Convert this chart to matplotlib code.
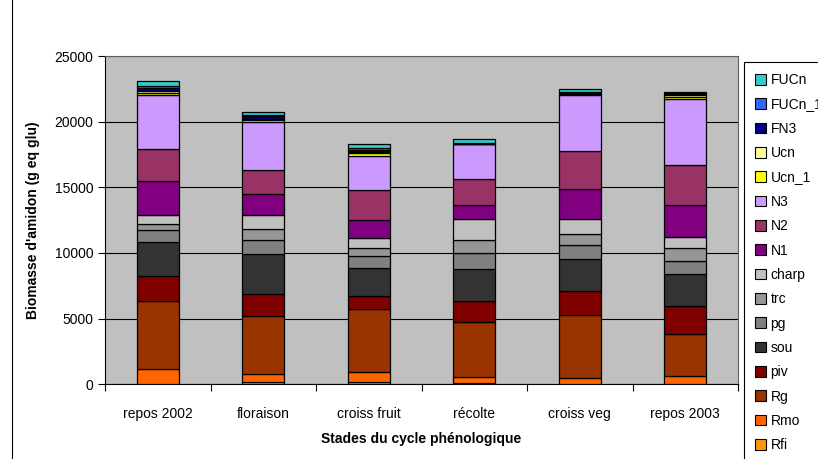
import numpy as np
import matplotlib.pyplot as plt
from matplotlib.lines import Line2D
from matplotlib.patches import Patch

plt.rcParams['font.family'] = ['Liberation Sans', 'DejaVu Sans']

stades = ['repos 2002', 'floraison', 'croiss fruit', 'récolte', 'croiss veg', 'repos 2003']

# starch biomass per organ (g eq glu), bottom of the stack first
Rfi = [50, 150, 150, 80, 40, 40]
Rmo = [1090, 660, 810, 500, 417, 590]
Rg = [5180, 4414, 4774, 4165, 4797, 3221]
piv = [1950, 1676, 1013, 1576, 1874, 2087]
sou = [2566, 3045, 2086, 2437, 2437, 2482]
pg = [890, 1021, 960, 1219, 1066, 967]
trc = [500, 837, 563, 1012, 837, 967]
charp = [685, 1089, 762, 1577, 1097, 838]
N1 = [2590, 1622, 1371, 1066, 2284, 2460]
N2 = [2437, 1828, 2284, 2026, 2894, 3046]
N3 = [4112, 3609, 2635, 2642, 4310, 5026]
Ucn_1 = [150, 150, 200, 0, 60, 150]
Ucn = [150, 80, 50, 0, 60, 150]
FN3 = [200, 250, 200, 30, 30, 100]
FUCn_1 = [150, 50, 141, 28, 20, 30]
FUCn = [390, 232, 300, 300, 241, 103]

series = [
    ('Rfi', Rfi, '#FF9900'),
    ('Rmo', Rmo, '#FF6600'),
    ('Rg', Rg, '#993300'),
    ('piv', piv, '#800000'),
    ('sou', sou, '#333333'),
    ('pg', pg, '#808080'),
    ('trc', trc, '#969696'),
    ('charp', charp, '#C0C0C0'),
    ('N1', N1, '#800080'),
    ('N2', N2, '#993366'),
    ('N3', N3, '#CC99FF'),
    ('Ucn_1', Ucn_1, '#FFFF00'),
    ('Ucn', Ucn, '#FFFF99'),
    ('FN3', FN3, '#000080'),
    ('FUCn_1', FUCn_1, '#3366FF'),
    ('FUCn', FUCn, '#33CCCC'),
]

fig = plt.figure(figsize=(8.18, 4.59), dpi=100)
ax = fig.add_axes([105 / 818, 1 - 384.3 / 459, 633 / 818, 328.3 / 459])
ax.set_facecolor('#C0C0C0')

x = np.arange(len(stades))
bottom = np.zeros(len(stades))
handles = []
for name, vals, col in series:
    ax.bar(x, vals, 0.4, bottom=bottom, color=col, edgecolor='black',
           linewidth=0.9, zorder=3)
    bottom += np.array(vals)
    handles.append(Patch(facecolor=col, edgecolor='black', linewidth=0.8, label=name))

ax.set_xlim(-0.5, len(stades) - 0.5)
ax.set_ylim(0, 25000)
ax.set_yticks(np.arange(0, 25001, 5000))
ax.yaxis.grid(True, color='black', linewidth=0.8, zorder=0)
ax.set_axisbelow(True)

ax.set_xticks(x)
ax.set_xticklabels(stades, fontsize=10)
ax.set_xticks(np.arange(-0.5, len(stades)), minor=True)
ax.tick_params(axis='x', which='major', length=0, pad=16)
ax.tick_params(axis='x', which='minor', length=5, width=0.8, direction='out')
ax.tick_params(axis='y', length=5, width=0.8, direction='out', labelsize=10)

for side in ['top', 'right']:
    ax.spines[side].set_color('#606060')
for side in ['left', 'bottom']:
    ax.spines[side].set_color('black')
    ax.spines[side].set_linewidth(0.8)

ax.set_ylabel("Biomasse d'amidon (g eq glu)", fontsize=10, fontweight='bold', labelpad=10)
ax.set_xlabel('Stades du cycle phénologique', fontsize=10, fontweight='bold', labelpad=8)

leg = fig.legend(handles=handles[::-1], loc='upper left',
                 bbox_to_anchor=(744 / 818, 1 - 62 / 459), frameon=True,
                 fancybox=False, edgecolor='black', framealpha=1,
                 fontsize=10, handlelength=0.8, handleheight=0.8,
                 handletextpad=0.3, labelspacing=0.745, borderpad=0.8,
                 borderaxespad=0)
leg.get_frame().set_linewidth(0.8)

# outer chart frame
fig.add_artist(Line2D([12 / 818, 12 / 818], [0, 1], color='black',
                      linewidth=0.8, transform=fig.transFigure))

fig.savefig('out.png', dpi=100)
